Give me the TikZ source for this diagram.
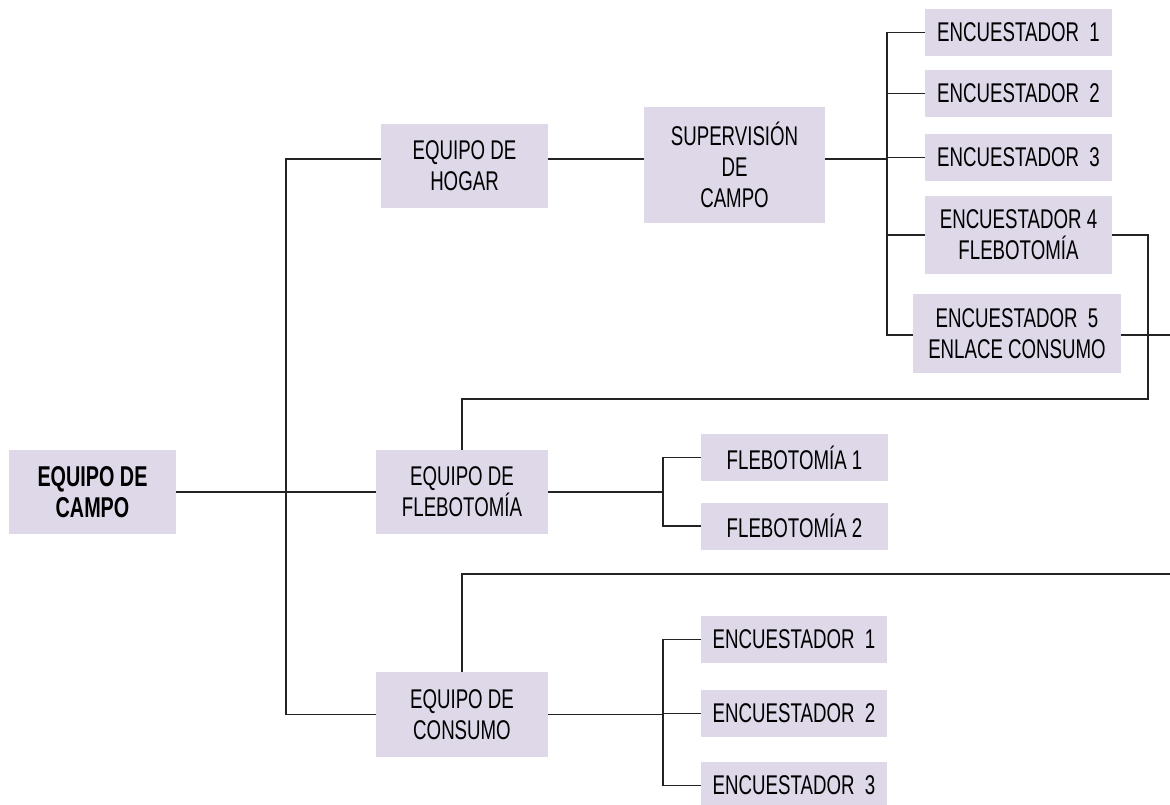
\documentclass[tikz,border=0pt]{standalone}
\usepackage{fontspec}
\setmainfont{Liberation Sans}[FakeStretch=0.69]
\definecolor{boxfill}{RGB}{222,216,233}
\definecolor{linec}{RGB}{35,35,35}
\begin{document}
\begin{tikzpicture}[x=0.75pt,y=-0.75pt,
  box/.style={fill=boxfill,draw=none,inner sep=0pt,align=center,
    font=\fontsize{20.3}{23.25}\selectfont},
  conn/.style={draw=linec,line width=1.2pt}]
\useasboundingbox (0,0) rectangle (1170,805);
% nodes
\node[box,minimum width=167*0.75pt,minimum height=84*0.75pt,font=\fontsize{21.5}{23.25}\selectfont\bfseries] (campo) at (92.5,492) {EQUIPO DE\\CAMPO};
\node[box,minimum width=167*0.75pt,minimum height=84*0.75pt] (hogar) at (464.5,166) {EQUIPO DE\\HOGAR};
\node[box,minimum width=181*0.75pt,minimum height=116*0.75pt] (superv) at (734.5,165) {SUPERVISIÓN\\DE\\CAMPO};
\node[box,minimum width=187*0.75pt,minimum height=47*0.75pt] (e1) at (1018.5,32.5) {ENCUESTADOR~ 1};
\node[box,minimum width=187*0.75pt,minimum height=47*0.75pt] (e2) at (1018.5,93.5) {ENCUESTADOR~ 2};
\node[box,minimum width=187*0.75pt,minimum height=47*0.75pt] (e3) at (1018.5,157.5) {ENCUESTADOR~ 3};
\node[box,minimum width=187*0.75pt,minimum height=78*0.75pt] (e4) at (1018.5,235) {ENCUESTADOR 4\\FLEBOTOMÍA};
\node[box,minimum width=208*0.75pt,minimum height=79*0.75pt] (e5) at (1017,333.5) {ENCUESTADOR~ 5\\ENLACE CONSUMO};
\node[box,minimum width=172*0.75pt,minimum height=84*0.75pt] (fleb) at (462,492) {EQUIPO DE\\FLEBOTOMÍA};
\node[box,minimum width=187*0.75pt,minimum height=47*0.75pt] (f1) at (794.5,457.5) {FLEBOTOMÍA 1};
\node[box,minimum width=187*0.75pt,minimum height=47*0.75pt] (f2) at (794.5,526) {FLEBOTOMÍA 2};
\node[box,minimum width=172*0.75pt,minimum height=85*0.75pt] (cons) at (462,714.5) {EQUIPO DE\\CONSUMO};
\node[box,minimum width=186*0.75pt,minimum height=47*0.75pt] (c1) at (794,639.5) {ENCUESTADOR~ 1};
\node[box,minimum width=186*0.75pt,minimum height=47*0.75pt] (c2) at (794,713.5) {ENCUESTADOR~ 2};
\node[box,minimum width=186*0.75pt,minimum height=47*0.75pt] (c3) at (794,785.5) {ENCUESTADOR~ 3};
% coordinates
\coordinate (spine) at (286,0);
\coordinate (hline) at (0,159);
\coordinate (ebus) at (887,0);
\coordinate (fbus) at (663,0);
\coordinate (r1) at (1148,399);
\coordinate (out1) at (1170,335);
\coordinate (out2) at (1170,574);
% connectors
\draw[conn] (campo.east) -- (fleb.west);
\draw[conn] (hogar.west |- hline) -- (spine |- hline) |- (cons.west);
\draw[conn] (hogar.east |- hline) -- (superv.west |- hline);
\draw[conn] (superv.east |- hline) -- (ebus |- hline);
\draw[conn] (e1.west) -- (ebus |- e1.west) -- (ebus |- out1) -- (e5.west |- out1);
\draw[conn] (e2.west) -- (ebus |- e2.west);
\draw[conn] (e3.west) -- (ebus |- e3.west);
\draw[conn] (e4.west) -- (ebus |- e4.west);
\draw[conn] (e4.east) -| (r1) -- (r1 -| fleb.north) -- (fleb.north);
\draw[conn] (e5.east |- out1) -- (out1);
\draw[conn] (out2) -| (cons.north);
\draw[conn] (fleb.east) -- (fbus |- fleb.east);
\draw[conn] (f1.west) -- (fbus |- f1.west) |- (f2.west);
\draw[conn] (cons.east) -- (fbus |- cons.east);
\draw[conn] (c1.west) -- (fbus |- c1.west) |- (c3.west);
\draw[conn] (c2.west) -- (fbus |- c2.west);
\end{tikzpicture}
\end{document}
